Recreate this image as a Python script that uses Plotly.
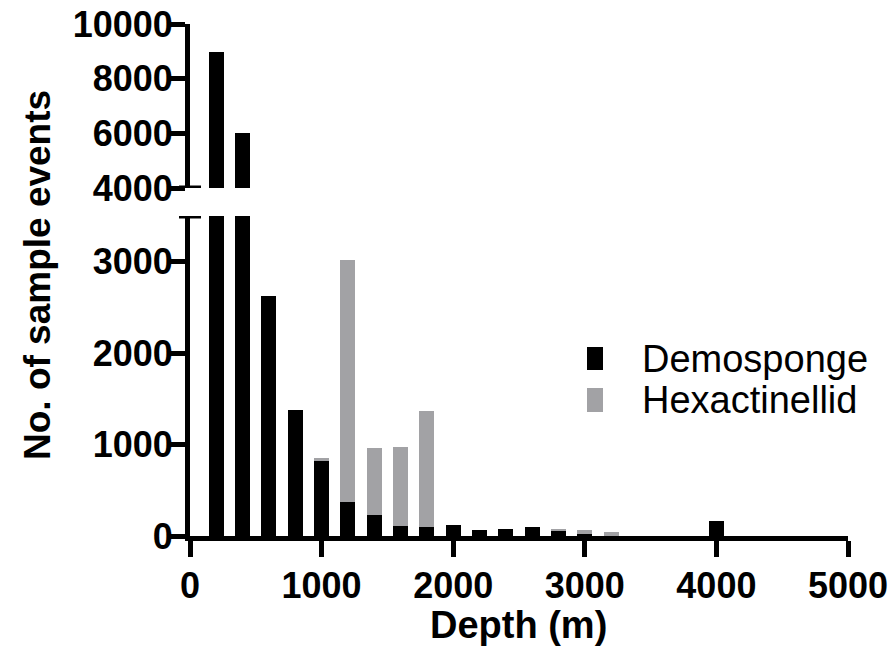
import plotly.graph_objects as go

# ---- data ----
depth = [200, 400, 600, 800, 1000, 1200, 1400, 1600, 1800, 2000,
         2200, 2400, 2600, 2800, 3000, 3200, 3400, 3600, 3800, 4000]
demosponge = [8980, 6010, 2620, 1380, 820, 372, 228, 110, 103, 121,
              63, 74, 96, 58, 20, 5, 0, 0, 0, 168]
hexactinellid = [0, 0, 0, 0, 38, 2650, 731, 868, 1261, 0,
                 0, 0, 0, 22, 43, 35, 0, 0, 0, 0]
x_ticks = [0, 1000, 2000, 3000, 4000, 5000]
y_low_ticks = [0, 1000, 2000, 3000]
y_high_ticks = [4000, 6000, 8000, 10000]
series_names = ["Demosponge", "Hexactinellid"]
series_colors = ["#000000", "#a2a2a5"]

# layout helpers in reference-pixel coordinates
FW, FH = 894, 662
def px_x(p):
    return p / FW
def px_y(p):
    return 1 - p / FH

FONT = "Liberation Sans, Arial, sans-serif"
TICKFONT = dict(family=FONT, size=36, color="black", weight="bold")

fig = go.Figure()
for ax in ["y", "y2"]:
    for name, vals, col in zip(series_names, [demosponge, hexactinellid], series_colors):
        fig.add_trace(go.Bar(x=depth, y=vals, name=name, marker_color=col,
                             marker_line_width=0, yaxis=ax, xaxis="x",
                             showlegend=False))

axis_common = dict(showline=True, linecolor="black", linewidth=5,
                   ticks="outside", tickwidth=5, ticklen=16, tickcolor="black",
                   showgrid=False, zeroline=False, tickfont=TICKFONT,
                   tickformat="d", ticklabeloverflow="allow")

fig.update_layout(
    width=FW, height=FH, barmode="stack", bargap=0.43,
    margin=dict(l=0, r=0, t=0, b=0, autoexpand=False),
    plot_bgcolor="white", paper_bgcolor="white",
    xaxis=dict(domain=[px_x(190), px_x(848)], range=[0, 5000],
               tickvals=x_ticks, anchor="y", ticklabelstandoff=-2, **axis_common),
    yaxis=dict(domain=[px_y(536), px_y(216)], range=[0, 3500],
               tickvals=y_low_ticks, anchor="x", ticklabelstandoff=-11, **axis_common),
    yaxis2=dict(domain=[px_y(188), px_y(24)], range=[4000, 10000],
                tickvals=y_high_ticks, anchor="x", ticklabelstandoff=-11, **axis_common),
)

shapes = [
    dict(type="line", xref="paper", yref="y", x0=px_x(179), x1=px_x(201),
         y0=3500, y1=3500, line=dict(color="black", width=5)),
    dict(type="line", xref="paper", yref="y2", x0=px_x(179), x1=px_x(201),
         y0=4000, y1=4000, line=dict(color="black", width=5)),
]
# legend swatches
legend_y = [(347, 370), (388, 412)]
for (y0, y1), col in zip(legend_y, series_colors):
    shapes.append(dict(type="rect", xref="paper", yref="paper",
                       x0=px_x(587), x1=px_x(603), y0=px_y(y1), y1=px_y(y0),
                       fillcolor=col, line=dict(width=0)))
fig.update_layout(shapes=shapes)

annotations = [
    dict(text="No. of sample events", xref="paper", yref="paper",
         x=px_x(37), y=px_y(275), textangle=-90, showarrow=False,
         xanchor="center", yanchor="middle",
         font=dict(family=FONT, size=37, color="black", weight="bold")),
    dict(text="Depth (m)", xref="paper", yref="paper",
         x=px_x(518), y=px_y(625), showarrow=False,
         xanchor="center", yanchor="middle",
         font=dict(family=FONT, size=38, color="black", weight="bold")),
]
for (y0, y1), name in zip(legend_y, series_names):
    annotations.append(dict(text=name, xref="paper", yref="paper",
                            x=px_x(640), y=px_y((y0 + y1) / 2), showarrow=False,
                            xanchor="left", yanchor="middle",
                            font=dict(family=FONT, size=38, color="black")))
fig.update_layout(annotations=annotations)

fig.write_html("out.html", config={"displayModeBar": False},
               post_script="document.body.style.margin='0';document.body.style.overflow='hidden';")
